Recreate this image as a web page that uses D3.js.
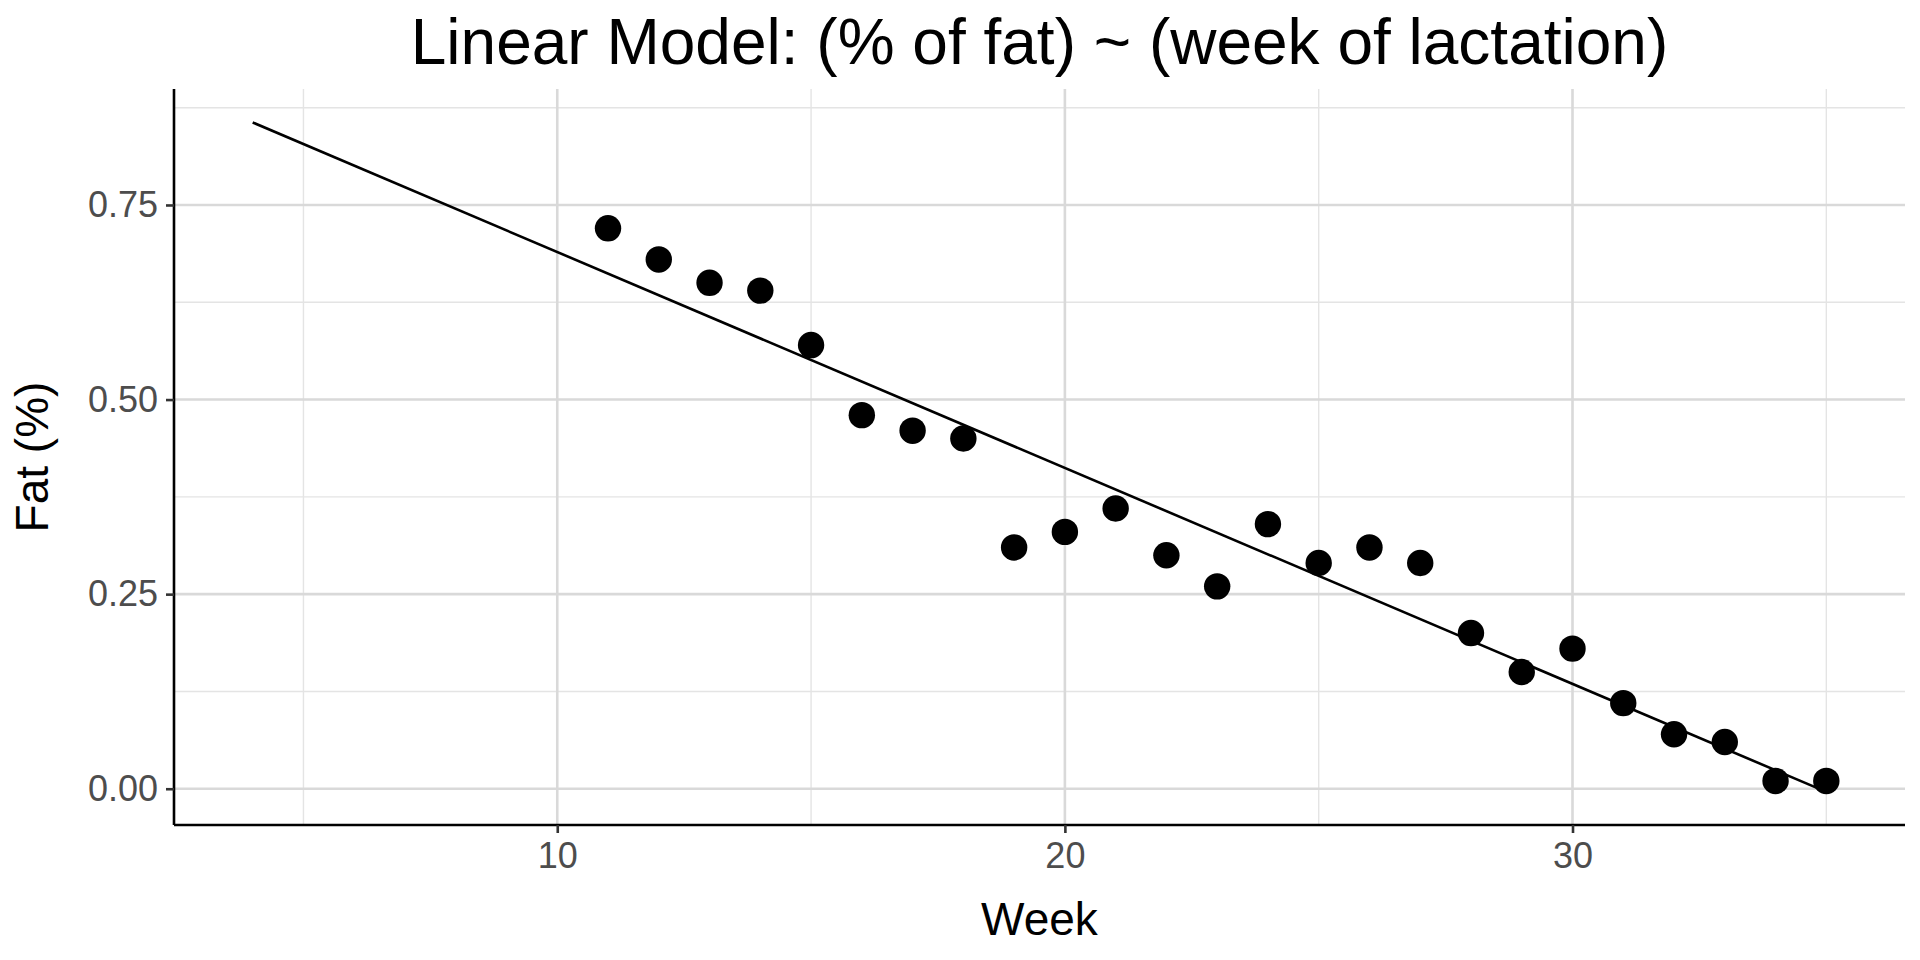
<!DOCTYPE html>
<html>
<head>
<meta charset="utf-8">
<script src="https://cdn.jsdelivr.net/npm/d3@7"></script>
<style>
  html, body { margin: 0; padding: 0; background: #fff; }
  svg text { font-family: "Liberation Sans", Arial, Helvetica, sans-serif; }
</style>
</head>
<body>
<div id="chart"></div>
<script>
// observed data: week of lactation vs % of fat
const weeks = [11, 12, 13, 14, 15, 16, 17, 18, 19, 20, 21, 22, 23, 24, 25, 26, 27, 28, 29, 30, 31, 32, 33, 34, 35];
const fat = [0.72, 0.68, 0.65, 0.64, 0.57, 0.48, 0.46, 0.45, 0.31, 0.33, 0.36, 0.30, 0.26, 0.34, 0.29, 0.31, 0.29, 0.20, 0.15, 0.18, 0.11, 0.07, 0.06, 0.01, 0.01];

// fitted line end points
const fitWeeks = [4, 35];
const fitFat = [0.856, -0.004];

const xTicks = [10, 20, 30];
const xMinor = [5, 15, 25, 35];
const yTicks = [0, 0.25, 0.5, 0.75];
const yMinor = [0.125, 0.375, 0.625, 0.875];

const width = 1920;
const height = 960;
const margin = { top: 89, right: 15, bottom: 135, left: 174 };
const innerW = width - margin.left - margin.right;
const innerH = height - margin.top - margin.bottom;

const svg = d3
  .select('#chart')
  .append('svg')
  .attr('width', width)
  .attr('height', height);

const g = svg
  .append('g')
  .attr('transform', `translate(${margin.left},${margin.top})`);

const x = d3.scaleLinear().domain([2.45, 36.55]).range([0, innerW]);
const y = d3.scaleLinear().domain([-0.0466, 0.899]).range([innerH, 0]);

// minor grid
g.selectAll('.xminor')
  .data(xMinor)
  .enter()
  .append('line')
  .attr('x1', (d) => x(d))
  .attr('x2', (d) => x(d))
  .attr('y1', 0)
  .attr('y2', innerH)
  .attr('stroke', '#e4e4e4')
  .attr('stroke-width', 1.4);

g.selectAll('.yminor')
  .data(yMinor)
  .enter()
  .append('line')
  .attr('x1', 0)
  .attr('x2', innerW)
  .attr('y1', (d) => y(d))
  .attr('y2', (d) => y(d))
  .attr('stroke', '#e4e4e4')
  .attr('stroke-width', 1.4);

// major grid
g.selectAll('.xmajor')
  .data(xTicks)
  .enter()
  .append('line')
  .attr('x1', (d) => x(d))
  .attr('x2', (d) => x(d))
  .attr('y1', 0)
  .attr('y2', innerH)
  .attr('stroke', '#d9d9d9')
  .attr('stroke-width', 2.6);

g.selectAll('.ymajor')
  .data(yTicks)
  .enter()
  .append('line')
  .attr('x1', 0)
  .attr('x2', innerW)
  .attr('y1', (d) => y(d))
  .attr('y2', (d) => y(d))
  .attr('stroke', '#d9d9d9')
  .attr('stroke-width', 2.6);

// axes
const xAxis = g
  .append('g')
  .attr('transform', `translate(0,${innerH})`)
  .call(d3.axisBottom(x).tickValues(xTicks).tickSize(8).tickPadding(9).tickFormat(d3.format('d')));

const yAxis = g
  .append('g')
  .call(d3.axisLeft(y).tickValues(yTicks).tickSize(8).tickPadding(8).tickFormat(d3.format('.2f')));

[xAxis, yAxis].forEach((ax) => {
  ax.select('.domain').attr('stroke', '#000').attr('stroke-width', 2.6);
  ax.selectAll('.tick line').attr('stroke', '#333').attr('stroke-width', 2.6);
  ax.selectAll('.tick text')
    .attr('fill', '#4d4d4d')
    .style('font-size', '36px')
    .style('font-family', '"Liberation Sans", Arial, sans-serif');
});
xAxis.select('.domain').attr('d', `M0,0H${innerW}`);
yAxis.select('.domain').attr('d', `M0,0V${innerH}`);

// fitted line
const fit = fitWeeks.map((w, i) => ({ week: w, fat: fitFat[i] }));
g.append('path')
  .datum(fit)
  .attr('fill', 'none')
  .attr('stroke', '#000')
  .attr('stroke-width', 2.6)
  .attr('d', d3.line().x((d) => x(d.week)).y((d) => y(d.fat)));

// points
g.selectAll('.pt')
  .data(weeks.map((w, i) => ({ week: w, fat: fat[i] })))
  .enter()
  .append('circle')
  .attr('cx', (d) => x(d.week))
  .attr('cy', (d) => y(d.fat))
  .attr('r', 13.2)
  .attr('fill', '#000');

// titles
svg.append('text')
  .attr('x', margin.left + innerW / 2)
  .attr('y', 64)
  .attr('text-anchor', 'middle')
  .style('font-size', '64px')
  .attr('fill', '#000')
  .text('Linear Model: (% of fat) ~ (week of lactation)');

svg.append('text')
  .attr('x', margin.left + innerW / 2)
  .attr('y', 935)
  .attr('text-anchor', 'middle')
  .style('font-size', '46px')
  .attr('fill', '#000')
  .text('Week');

svg.append('text')
  .attr('transform', `translate(48,${margin.top + innerH / 2}) rotate(-90)`)
  .attr('text-anchor', 'middle')
  .style('font-size', '46px')
  .attr('fill', '#000')
  .text('Fat (%)');
</script>
</body>
</html>
